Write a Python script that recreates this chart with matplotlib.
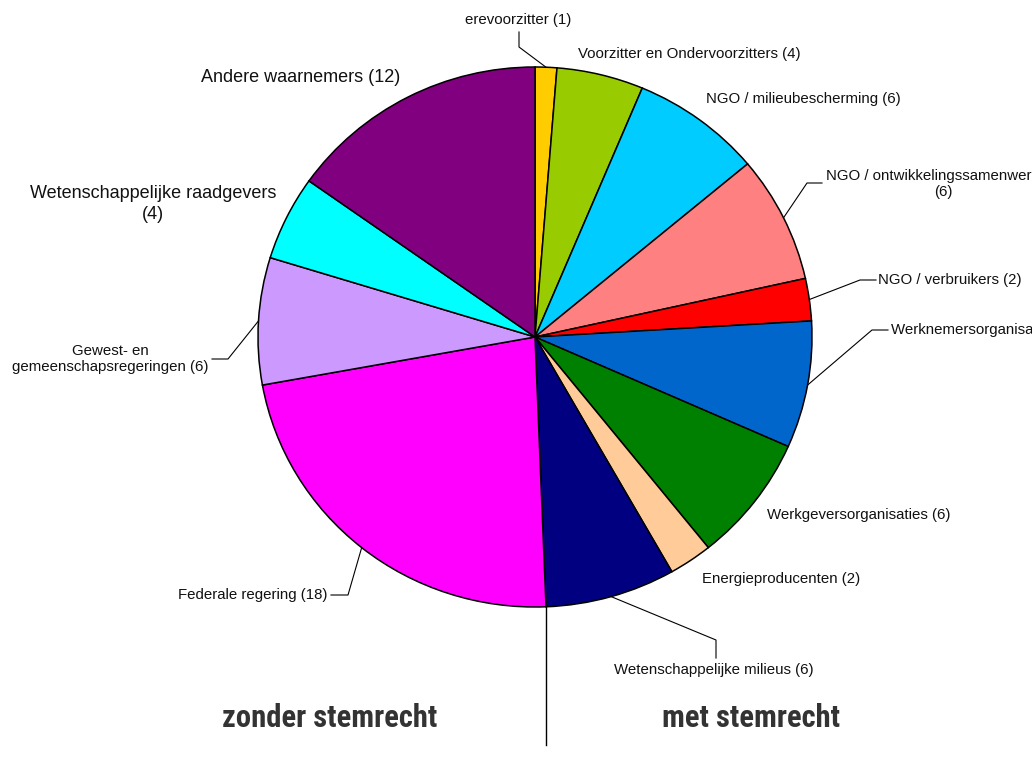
import numpy as np
import matplotlib
matplotlib.use("Agg")
import matplotlib.pyplot as plt
from matplotlib import font_manager

# segments, clockwise from the top
labels = ["erevoorzitter (1)", "Voorzitter en Ondervoorzitters (4)",
          "NGO / milieubescherming (6)", "NGO / ontwikkelingssamenwerking\n(6)",
          "NGO / verbruikers (2)", "Werknemersorganisaties (6)",
          "Werkgeversorganisaties (6)", "Energieproducenten (2)",
          "Wetenschappelijke milieus (6)", "Federale regering (18)",
          "Gewest- en\ngemeenschapsregeringen (6)",
          "Wetenschappelijke raadgevers\n(4)", "Andere waarnemers (12)"]
values = [1, 4, 6, 6, 2, 6, 6, 2, 6, 18, 6, 4, 12]
colors = ["#FFCC00", "#99CC00", "#00CCFF", "#FF8080", "#FF0000", "#0066CC",
          "#008000", "#FFCC99", "#000080", "#FF00FF", "#CC99FF", "#00FFFF",
          "#800080"]
n_voting = 9   # first nine segments have voting rights
groups = ["zonder stemrecht", "met stemrecht"]

W, H = 1032, 758
CX, CY, RX, RY = 535, 337, 277, 270   # pie centre / radii in pixels (y from top)

def Y(py):
    return H - py

fig = plt.figure(figsize=(W / 100, H / 100), dpi=100)

# pie in its own box (slightly wider than tall, like the original)
pax = fig.add_axes([(CX - RX) / W, (H - CY - RY) / H, 2 * RX / W, 2 * RY / H])
pax.pie(values, colors=colors, startangle=90, counterclock=False,
        radius=1, wedgeprops=dict(edgecolor="black", linewidth=1.1))
pax.set_xlim(-1, 1)
pax.set_ylim(-1, 1)
pax.set_aspect("auto")
pax.axis("off")

# overlay in pixel coordinates for labels and leader lines
ax = fig.add_axes([0, 0, 1, 1], facecolor="none")
ax.set_xlim(0, W)
ax.set_ylim(0, H)
ax.axis("off")

font = "Liberation Sans"
small = 10.8
big = 13

# label placement: (x, y, ha, size, elbow points or None)
place = [
    (518, 20, "center", small, [(519, 47), (519, 32)]),
    (578, 54, "left", small, None),
    (706, 99, "left", small, None),
    (943, 184, "center", small, [(807, 183), (822, 183)]),
    (878, 280, "left", small, [(860, 280), (876, 280)]),
    (891, 330, "left", small, [(872, 330), (888, 330)]),
    (767, 515, "left", small, None),
    (702, 579, "left", small, None),
    (614, 670, "left", small, [(716, 640), (716, 658)]),
    (327, 595, "right", small, [(348, 595), (331, 595)]),
    (110, 359, "center", small, [(228, 359), (212, 359)]),
    (153, 204, "center", big, None),
    (201, 77, "left", big, None),
]

total = sum(values)
cum = np.cumsum([0] + values)

def edge_point(frac):
    ang = np.deg2rad(90 - frac * 360)
    return CX + RX * np.cos(ang), CY - RY * np.sin(ang)

for i, (lab, (x, y, ha, fs, pts)) in enumerate(zip(labels, place)):
    ax.text(x, Y(y), lab, ha=ha, va="center", fontsize=fs, family=font,
            color="#111111", linespacing=1.3 if fs == big else 1.25)
    if pts:
        sx, sy = edge_point((cum[i] + cum[i + 1]) / 2 / total)
        path = [(sx, sy)] + pts
        ax.plot([p[0] for p in path], [Y(p[1]) for p in path],
                color="black", linewidth=0.8)

# divider between voting / non-voting members
bx, by = edge_point(cum[n_voting] / total)
ax.plot([bx, bx], [Y(by), Y(745)], color="black", linewidth=1.0)

# bold condensed face for the two group captions, if one is installed
prefs = ["robotocondensed-bold", "liberationsansnarrow-bold",
         "opensans_condensed-bold", "opensanscondensed-bold",
         "dejavusanscondensed-bold"]
cond, rank = None, len(prefs)
for f in font_manager.fontManager.ttflist:
    fn = f.fname.lower().replace(" ", "").split("/")[-1]
    for k, p in enumerate(prefs):
        if fn.startswith(p) and k < rank:
            cond, rank = f.fname, k
if cond:
    cap = font_manager.FontProperties(fname=cond, size=20)
else:
    cap = font_manager.FontProperties(family=font, weight="bold", size=20)

# size the captions so "zonder stemrecht" is about as wide as in the original
t0 = ax.text(330, Y(718), groups[0], ha="center", va="center",
             fontproperties=cap, color="#333333")
t1 = ax.text(751, Y(718), groups[1], ha="center", va="center",
             fontproperties=cap, color="#333333")
r = fig.canvas.get_renderer()
wpx = t0.get_window_extent(r).width
size = 20 * 215 / wpx
t0.set_fontsize(size)
t1.set_fontsize(size)

fig.savefig("out.png", dpi=100)
